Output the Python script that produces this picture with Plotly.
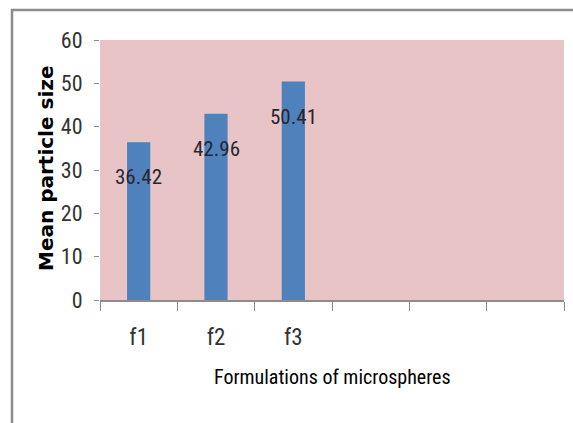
import plotly.graph_objects as go

categories = ["f1", "f2", "f3"]
values = [36.42, 42.96, 50.41]
empty_slots = [" ", "  ", "   "]
y_ticks = [0, 10, 20, 30, 40, 50, 60]

W, H = 573, 423
L, R, T, B = 100, 9, 40, 123
pw, ph = W - L - R, H - T - B

def px_to_paper(x, y):
    return (x - L) / pw, (H - B - y) / ph

narrow = "Roboto Condensed, DejaVu Sans Condensed, sans-serif"

fig = go.Figure()
fig.add_trace(go.Bar(
    x=categories, y=values,
    marker=dict(color="#4F81BD", line=dict(width=0)),
    width=0.3,
    hoverinfo="skip",
))

for c, v in zip(categories, values):
    fig.add_annotation(x=c, y=v, yshift=-35, text=f"{v:.2f}", showarrow=False,
                       xanchor="center", yanchor="middle",
                       font=dict(family=narrow, size=21, color="#262633"))

x0, y0 = px_to_paper(12, 10)
x1, y1 = px_to_paper(576, 426)
fig.add_shape(type="rect", xref="paper", yref="paper", x0=x0, y0=y1, x1=x1, y1=y0,
              line=dict(color="#8c8c8c", width=2.5), layer="below")

ax, ay = px_to_paper(46, 169)
fig.add_annotation(xref="paper", yref="paper", x=ax, y=ay, text="<b>Mean particle size</b>",
                   textangle=-90, showarrow=False, xanchor="center", yanchor="middle",
                   font=dict(family="DejaVu Sans, Arial, sans-serif", size=20, color="#000000"))
tx, ty = px_to_paper(332, 377)
fig.add_annotation(xref="paper", yref="paper", x=tx, y=ty, text="Formulations of microspheres",
                   showarrow=False, xanchor="center", yanchor="middle",
                   font=dict(family=narrow, size=20, color="#000000"))

fig.update_layout(
    width=W, height=H,
    margin=dict(l=L, r=R, t=T, b=B, pad=0),
    paper_bgcolor="white",
    plot_bgcolor="#E8C4C6",
    showlegend=False,
    xaxis=dict(
        type="category",
        categoryorder="array",
        categoryarray=categories + empty_slots,
        range=[-0.5, len(categories + empty_slots) - 0.5],
        tickson="boundaries",
        ticks="outside", ticklen=9, tickwidth=1, tickcolor="#8c8c8c",
        showline=True, linecolor="#8c8c8c", linewidth=1.5,
        showgrid=False, zeroline=False,
        tickfont=dict(family=narrow, size=23, color="#333333"),
        ticklabelstandoff=16,
    ),
    yaxis=dict(
        range=[0, 60],
        tickvals=y_ticks,
        ticks="outside", ticklen=5, tickwidth=1, tickcolor="#8c8c8c",
        showline=False, showgrid=False, zeroline=False,
        tickfont=dict(family=narrow, size=22, color="#333333"),
        ticklabelstandoff=7,
    ),
)

fig.write_html("out.html")
